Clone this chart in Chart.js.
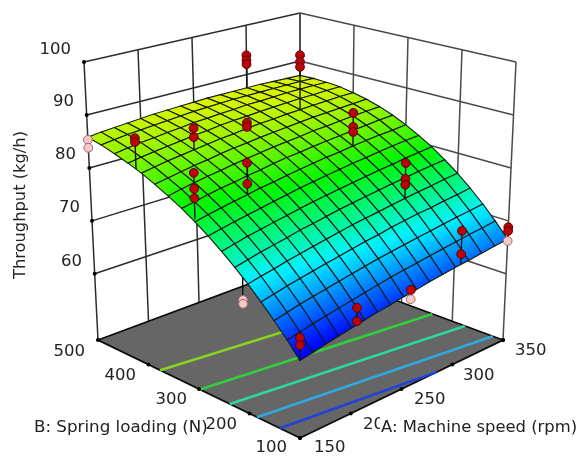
<!DOCTYPE html>
<html><head><meta charset="utf-8">
<style>html,body{margin:0;padding:0;background:#fff}canvas{display:block;filter:blur(0.4px)}</style>
<script src="https://cdn.jsdelivr.net/npm/chart.js@4"></script>
</head><body><canvas id="c" width="579" height="456"></canvas>
<script>
const aTicks=[150,200,250,300,350];
const bTicks=[100,200,300,400,500];
const zTicks=[60,70,80,90,100];
const zFloor=47.5, zTop=100;
const gridA=[150,162.5,175,187.5,200,212.5,225,237.5,250,262.5,275,287.5,300,312.5,325,337.5,350];
const gridB=[100,125,150,175,200,225,250,275,300,325,350,375,400,425,450,475,500];
const surfaceZ=[
[61.0,61.4,61.9,62.3,62.7,63.1,63.5,63.8,64.2,64.5,64.9,65.2,65.5,65.7,66.0,66.3,66.5],
[63.6,64.0,64.5,64.9,65.3,65.7,66.1,66.5,66.9,67.2,67.5,67.8,68.1,68.4,68.7,68.9,69.2],
[66.0,66.5,67.0,67.4,67.8,68.2,68.6,69.0,69.4,69.7,70.0,70.3,70.6,70.9,71.2,71.4,71.7],
[68.3,68.8,69.3,69.7,70.1,70.5,70.9,71.3,71.7,72.0,72.4,72.7,73.0,73.2,73.5,73.7,74.0],
[70.5,71.0,71.4,71.9,72.3,72.7,73.1,73.5,73.9,74.2,74.5,74.8,75.1,75.4,75.6,75.9,76.1],
[72.5,73.0,73.5,73.9,74.3,74.8,75.1,75.5,75.9,76.2,76.5,76.8,77.1,77.3,77.6,77.8,78.0],
[74.4,74.9,75.4,75.8,76.2,76.6,77.0,77.4,77.7,78.0,78.3,78.6,78.9,79.1,79.4,79.6,79.8],
[76.2,76.7,77.1,77.5,77.9,78.3,78.7,79.1,79.4,79.7,80.0,80.3,80.5,80.8,81.0,81.2,81.3],
[77.8,78.3,78.7,79.1,79.5,79.9,80.2,80.6,80.9,81.2,81.5,81.7,82.0,82.2,82.4,82.5,82.7],
[79.3,79.7,80.2,80.6,80.9,81.3,81.6,82.0,82.3,82.5,82.8,83.0,83.2,83.4,83.6,83.8,83.9],
[80.6,81.1,81.5,81.9,82.2,82.6,82.9,83.2,83.5,83.7,83.9,84.2,84.3,84.5,84.7,84.8,84.9],
[81.8,82.2,82.6,83.0,83.3,83.7,84.0,84.2,84.5,84.7,84.9,85.1,85.3,85.4,85.5,85.6,85.7],
[82.9,83.3,83.7,84.0,84.3,84.6,84.9,85.1,85.4,85.6,85.7,85.9,86.0,86.1,86.2,86.3,86.3],
[83.8,84.2,84.5,84.8,85.1,85.4,85.6,85.9,86.1,86.2,86.4,86.5,86.6,86.7,86.7,86.8,86.8],
[84.6,85.0,85.3,85.5,85.8,86.0,86.3,86.4,86.6,86.7,86.9,86.9,87.0,87.1,87.1,87.1,87.0],
[85.3,85.6,85.9,86.1,86.3,86.5,86.7,86.9,87.0,87.1,87.2,87.2,87.2,87.2,87.2,87.2,87.1],
[85.8,86.1,86.3,86.5,86.7,86.9,87.0,87.1,87.2,87.3,87.3,87.3,87.3,87.3,87.2,87.1,87.0]
];
const pointA=[150,150,150,150,200,200,150,150,150,300,300,300,250,250,200,200,300,300,300,300,300,300,300,300,300,150,150,205,205,257,257,305,305,350,350,350,150,150];
const pointB=[500,500,410,410,400,400,300,300,300,500,500,500,400,400,300,300,400,400,400,300,300,300,200,200,200,100,100,100,100,100,100,100,100,100,100,100,210,210];
const pointZ=[85.3,83.8,89.0,88.3,88.4,86.7,86.7,83.8,82.1,93.9,92.9,92.1,86.5,85.7,85.4,81.5,96.8,95.5,94.5,88.4,85.7,84.7,81.8,78.8,77.7,65.0,63.7,65.9,63.5,64.9,63.2,71.8,67.5,68.8,68.1,66.2,67.3,66.6];
const pointBelow=[1,1,0,0,0,0,0,0,0,0,0,0,0,0,0,0,0,0,0,0,0,0,0,0,0,0,0,0,0,0,1,0,0,0,0,1,1,1];
const stemA=[150,200,150,300,250,200,300,300,300,150,205,257,305,350,150];
const stemB=[410,400,300,500,400,300,400,300,200,100,100,100,100,100,210];
const stemTop=[89.0,88.4,86.7,93.9,86.5,85.4,96.8,88.4,81.8,65.0,65.9,64.9,71.8,68.8,67.3];
const stemBase=[83.3,84.3,78.3,87.2,85.4,79.5,86.0,82.0,75.1,61.0,62.8,64.4,65.7,66.5,71.3];
const contourA=[[150,350],[150,350],[150,350],[150,350],[150,285]];
const contourB=[[377,322],[298,239],[239,175],[185,120],[140,100]];
const contourColor=['#86d61f','#2fd03a','#2fd7a0','#2fa8e0','#2040e0'];

const floorC={F:[300,438],R:[503,340],L:[98,340],B:[300,265]};
const topC={F:[300,137],R:[516,62],L:[84,62],B:[300,13]};
function P(A,B,z){
  const s=(A-150)/200,t=(B-100)/400,h=(z-zFloor)/(zTop-zFloor);
  const bl=(c,i)=>c.F[i]*(1-s)*(1-t)+c.R[i]*s*(1-t)+c.L[i]*(1-s)*t+c.B[i]*s*t;
  return {x:bl(floorC,0)*(1-h)+bl(topC,0)*h,y:bl(floorC,1)*(1-h)+bl(topC,1)*h};
}
function rainbow(z){
  let r=0,g=0,b=0;
  if(z<71){g=Math.max(0,(z-62)/9);b=1;}
  else if(z<79.5){g=1;b=(79.5-z)/8.5;}
  else {r=Math.min(1,(z-79.5)/8.5);g=1;}
  return `rgb(${Math.round(r*240)},${Math.round(g*245)},${Math.round(b*255)})`;
}
const seq=[];
const cv=document.getElementById('c'),gctx=cv.getContext('2d');
function line(pts,color,w){seq.push({data:pts,showLine:true,fill:false,borderColor:color,borderWidth:w,pointRadius:0,tension:0});}
function poly(pts,bg,bc,w){seq.push({data:pts,showLine:true,fill:'shape',backgroundColor:bg,borderColor:bc,borderWidth:w,pointRadius:0,tension:0});}
const leftC='#2c2c2c',rightC='#4a4a4a',wallW=1.5;
const A0=aTicks[0],A1=aTicks[4],B0=bTicks[0],B1=bTicks[4];
zTicks.forEach(z=>{line([P(A0,B1,z),P(A1,B1,z)],leftC,wallW);line([P(A1,B1,z),P(A1,B0,z)],rightC,wallW);});
aTicks.forEach(a=>line([P(a,B1,zFloor),P(a,B1,zTop)],leftC,wallW));
bTicks.forEach(b=>line([P(A1,b,zFloor),P(A1,b,zTop)],rightC,wallW));
poly([P(A0,B0,zFloor),P(A1,B0,zFloor),P(A1,B1,zFloor),P(A0,B1,zFloor),P(A0,B0,zFloor)],'#666666','#0c0c0c',1.8);
contourA.forEach((c,i)=>line([P(c[0],contourB[i][0],zFloor),P(c[1],contourB[i][1],zFloor)],contourColor[i],2.6));
for(let j=gridB.length-2;j>=0;j--)for(let i=gridA.length-2;i>=0;i--){
  const z1=surfaceZ[j][i],z2=surfaceZ[j][i+1],z3=surfaceZ[j+1][i+1],z4=surfaceZ[j+1][i];
  const p1=P(gridA[i],gridB[j],z1),p2=P(gridA[i+1],gridB[j],z2),p3=P(gridA[i+1],gridB[j+1],z3),p4=P(gridA[i],gridB[j+1],z4);
  const lo=(z1+z2)/2,hi=(z3+z4)/2;
  const gr=gctx.createLinearGradient((p1.x+p2.x)/2,(p1.y+p2.y)/2,(p3.x+p4.x)/2,(p3.y+p4.y)/2);
  gr.addColorStop(0,rainbow(lo));gr.addColorStop(.5,rainbow((lo+hi)/2));gr.addColorStop(1,rainbow(hi));
  poly([p1,p2,p3,p4,p1],gr,'#141a14',1.1);
}
stemA.forEach((a,i)=>line([P(a,stemB[i],stemTop[i]),P(a,stemB[i],stemBase[i])],'#111111',1.4));
const dots=[];
aTicks.forEach(a=>dots.push(P(a,B0,zFloor)));
bTicks.forEach(b=>dots.push(P(A0,b,zFloor)));
zTicks.forEach(z=>dots.push(P(A0,B1,z)));
dots.push(P(A1,B0,zFloor));
seq.push({data:dots,pointRadius:2,pointBackgroundColor:'#000',pointBorderWidth:0,showLine:false});
const pinkPts=[],redPts=[];
pointA.forEach((a,i)=>(pointBelow[i]?pinkPts:redPts).push(P(a,pointB[i],pointZ[i])));
seq.push({data:pinkPts,pointRadius:4.4,pointBackgroundColor:'#f7c6c6',pointBorderColor:'#9a6a6a',pointBorderWidth:1,showLine:false});
seq.push({data:redPts,pointRadius:4.4,pointBackgroundColor:'#bb0408',pointBorderColor:'#5a0000',pointBorderWidth:1,showLine:false});
seq.forEach((d,i)=>{d.order=seq.length-i;d.clip=false;});

const FONT='"DejaVu Sans"';
const txt=(ctx,s,x,y,al,size)=>{ctx.font=`${size}px ${FONT}`;ctx.textAlign=al;ctx.textBaseline='middle';ctx.fillStyle='#222';ctx.fillText(s,x,y);};
const labels={
 id:'labels',
 afterDraw(ch){
  const c=ch.ctx;c.save();
  const zPos=[[82,262],[80,208],[76,155],[74,102],[71,50]];
  zTicks.forEach((z,i)=>txt(c,String(z),zPos[i][0],zPos[i][1],'right',16.5));
  const bPos=[[287,448],[237,425],[187,400],[136,376],[85,352]];
  bTicks.forEach((b,i)=>txt(c,String(b),bPos[i][0],bPos[i][1],'right',16.5));
  const aPos=[[314,448],[363,425],[414,400],[463,376],[515,351]];
  aTicks.forEach((a,i)=>txt(c,String(a),aPos[i][0],aPos[i][1],'left',16.5));
  txt(c,'B: Spring loading (N)',34,428,'left',16.7);
  c.fillStyle='#fff';c.fillRect(380,417,199,23);
  txt(c,'A: Machine speed (rpm)',381,428,'left',16.4);
  c.translate(21,205);c.rotate(-Math.PI/2);
  txt(c,'Throughput (kg/h)',0,0,'center',16.3);
  c.restore();
 }
};
new Chart(cv,{
 type:'scatter',
 data:{datasets:seq},
 options:{
  responsive:false,animation:false,devicePixelRatio:1,events:[],
  layout:{padding:0,autoPadding:false},
  plugins:{legend:{display:false},tooltip:{enabled:false},title:{display:false}},
  scales:{x:{type:'linear',min:0,max:579,display:false},y:{type:'linear',min:0,max:456,reverse:true,display:false}}
 },
 plugins:[labels]
});
</script></body></html>
